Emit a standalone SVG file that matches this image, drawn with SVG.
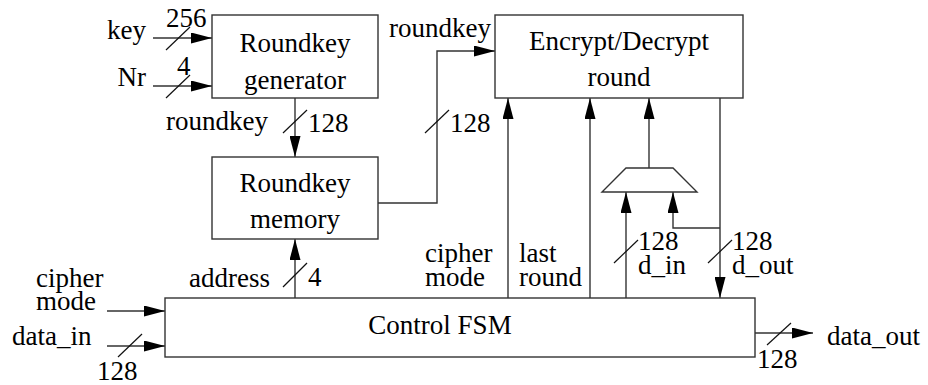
<svg xmlns="http://www.w3.org/2000/svg" width="928" height="385" viewBox="0 0 928 385">
  <style>
    text { font-family: "Liberation Serif", "Times New Roman", serif; font-size: 27px; fill: #000; }
    .mid { text-anchor: middle; }
    .box { fill: #fff; stroke: #333; stroke-width: 1.4; }
    .wire { fill: none; stroke: #333; stroke-width: 1.4; }
    .arr { marker-end: url(#head); }
    .bus { stroke: #111; stroke-width: 1.2; }
  </style>
  <defs>
    <marker id="head" markerUnits="userSpaceOnUse" markerWidth="21" markerHeight="11" refX="21" refY="5.5" orient="auto">
      <path d="M0,0 L21,5.5 L0,11 Z" fill="#000"/>
    </marker>
  </defs>
  <rect width="928" height="385" fill="#fff"/>

  <!-- connectors -->
  <g id="connectors">
    <!-- inputs to the key generator -->
    <line class="wire arr" x1="153" y1="38" x2="212" y2="38"/>
    <line class="bus" x1="166" y1="50" x2="190" y2="27"/>
    <line class="wire arr" x1="153" y1="86" x2="212" y2="86"/>
    <line class="bus" x1="166" y1="98" x2="190" y2="75"/>
    <!-- generator to memory -->
    <line class="wire arr" x1="295" y1="98" x2="295" y2="157"/>
    <line class="bus" x1="283" y1="133" x2="307" y2="110"/>
    <!-- memory to round -->
    <polyline class="wire arr" points="378,203 437,203 437,51 495,51"/>
    <line class="bus" x1="425" y1="133" x2="449" y2="110"/>
    <!-- FSM address to memory -->
    <line class="wire arr" x1="295" y1="298" x2="295" y2="239"/>
    <line class="bus" x1="283" y1="287" x2="307" y2="263"/>
    <!-- FSM control lines into round -->
    <line class="wire arr" x1="508" y1="298" x2="508" y2="98"/>
    <line class="wire arr" x1="590" y1="298" x2="590" y2="98"/>
    <!-- mux output into round -->
    <line class="wire arr" x1="649" y1="168" x2="649" y2="98"/>
    <!-- round output down to FSM -->
    <line class="wire arr" x1="720" y1="98" x2="720" y2="298"/>
    <line class="bus" x1="708" y1="263" x2="732" y2="240"/>
    <!-- feedback into mux -->
    <polyline class="wire arr" points="720,228 673,228 673,192"/>
    <!-- d_in into mux -->
    <line class="wire arr" x1="626" y1="298" x2="626" y2="192"/>
    <line class="bus" x1="614" y1="263" x2="638" y2="240"/>
    <!-- FSM inputs -->
    <line class="wire arr" x1="107" y1="311" x2="165" y2="311"/>
    <line class="wire arr" x1="107" y1="346" x2="165" y2="346"/>
    <line class="bus" x1="118" y1="357" x2="142" y2="334"/>
    <!-- FSM output -->
    <line class="wire arr" x1="755" y1="333" x2="813" y2="333"/>
    <line class="bus" x1="767" y1="345" x2="791" y2="323"/>
  </g>

  <!-- nodes -->
  <g id="keygen">
    <rect class="box" x="212" y="15" width="166" height="83"/>
    <text class="mid" x="295" y="52">Roundkey</text>
    <text class="mid" x="295" y="89">generator</text>
  </g>
  <g id="round">
    <rect class="box" x="495" y="15" width="248" height="83"/>
    <text class="mid" x="619" y="50">Encrypt/Decrypt</text>
    <text class="mid" x="619" y="86">round</text>
  </g>
  <g id="keymem">
    <rect class="box" x="212" y="157" width="166" height="82"/>
    <text class="mid" x="295" y="192">Roundkey</text>
    <text class="mid" x="295" y="228">memory</text>
  </g>
  <g id="mux">
    <polygon class="box" points="626,168 673,168 697,192 602,192"/>
  </g>
  <g id="fsm">
    <rect class="box" x="165" y="298" width="590" height="59"/>
    <text class="mid" x="440" y="334">Control FSM</text>
  </g>

  <!-- labels -->
  <g id="labels">
    <text x="146" y="39" text-anchor="end">key</text>
    <text x="166" y="27">256</text>
    <text x="146" y="86" text-anchor="end">Nr</text>
    <text x="177" y="75">4</text>
    <text x="166" y="130">roundkey</text>
    <text x="308" y="132">128</text>
    <text x="389" y="37">roundkey</text>
    <text x="450" y="132">128</text>
    <text x="189" y="287">address</text>
    <text x="308" y="286">4</text>
    <text x="425" y="262">cipher</text>
    <text x="425" y="286">mode</text>
    <text x="519" y="262">last</text>
    <text x="519" y="286">round</text>
    <text x="638" y="250">128</text>
    <text x="638" y="274">d_in</text>
    <text x="732" y="250">128</text>
    <text x="732" y="274">d_out</text>
    <text x="36" y="287">cipher</text>
    <text x="36" y="310">mode</text>
    <text x="12" y="345">data_in</text>
    <text x="97" y="380">128</text>
    <text x="757" y="368">128</text>
    <text x="827" y="345">data_out</text>
  </g>
</svg>
